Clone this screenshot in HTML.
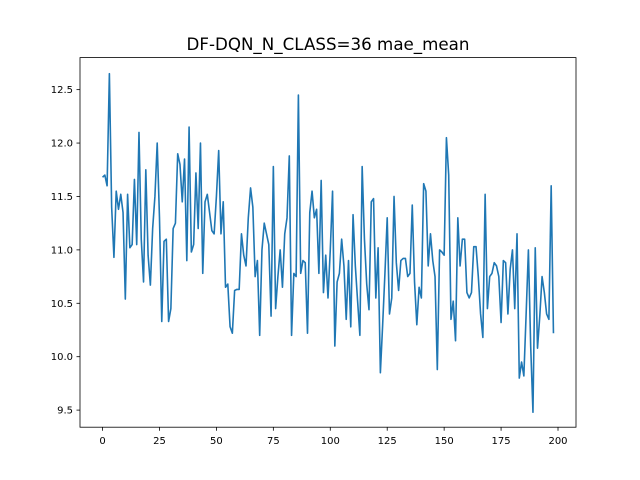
<!DOCTYPE html>
<html><head><meta charset="utf-8"><style>
body{margin:0;background:#fff;}
svg{display:block;font-family:"DejaVu Sans","Liberation Sans",sans-serif;}
</style></head><body>
<svg id="chart" width="640" height="480">
<rect width="640" height="480" fill="#fff"/>
<text x="328" y="50" text-anchor="middle" font-size="16.7">DF-DQN_N_CLASS=36 mae_mean</text>
<g id="xt"></g>
<g id="yt"></g>
<path id="line" fill="none" stroke="#1f77b4" stroke-width="1.6" stroke-linejoin="round"/>
<rect x="80" y="57.6" width="496" height="369.6" fill="none" stroke="#000" stroke-width="0.8"/>
</svg>
<script>
const xTicks=[0,25,50,75,100,125,150,175,200];
const yTicks=[9.5,10.0,10.5,11.0,11.5,12.0,12.5];
const yTickLabels=["9.5","10.0","10.5","11.0","11.5","12.0","12.5"];
const values=[11.68,11.70,11.6,12.65,11.4,10.93,11.55,11.38,11.52,11.35,10.54,11.52,11.02,11.05,11.66,11.05,12.1,11.1,10.7,11.75,
10.95,10.67,11.2,11.5,12.0,11.3,10.33,11.08,11.1,10.33,10.45,11.2,11.25,11.9,11.8,11.45,11.85,10.9,12.15,10.98,
11.05,11.72,11.2,12.0,10.78,11.45,11.52,11.35,11.18,11.15,11.5,11.93,11.15,11.45,10.65,10.68,10.28,10.22,10.62,10.63,
10.63,11.15,10.95,10.85,11.3,11.58,11.4,10.75,10.9,10.2,11.0,11.25,11.15,11.05,10.38,11.78,10.45,10.75,11.0,10.65,
11.15,11.3,11.88,10.2,10.78,10.75,12.45,10.78,10.9,10.88,10.22,11.35,11.55,11.3,11.38,10.78,11.65,10.6,10.95,10.55,
11.0,11.55,10.1,10.7,10.78,11.1,10.85,10.35,10.9,10.28,11.33,10.85,10.52,10.2,11.78,11.1,10.68,10.44,11.45,11.48,
10.55,11.02,9.85,10.3,10.78,11.3,10.4,10.55,11.5,10.88,10.62,10.9,10.92,10.92,10.75,10.78,11.42,10.7,10.3,10.65,
10.55,11.62,11.55,10.85,11.15,10.9,10.75,9.88,11.0,10.98,10.95,12.05,11.7,10.35,10.52,10.15,11.3,10.85,11.1,11.1,
10.6,10.55,10.6,11.03,11.03,10.75,10.4,10.18,11.52,10.45,10.75,10.78,10.88,10.85,10.75,10.32,10.9,10.88,10.4,10.82,
11.0,10.45,11.15,9.8,9.95,9.82,10.4,11.0,10.1,9.48,11.02,10.08,10.38,10.75,10.6,10.4,10.35,11.6,10.22];
const NS="http://www.w3.org/2000/svg";
const L=80,R=576,T=57.6,B=427.2;
const xMin=-9.9,xMax=207.9,yMin=9.34,yMax=12.8;
const xs=v=>L+(v-xMin)/(xMax-xMin)*(R-L);
const ys=v=>B-(v-yMin)/(yMax-yMin)*(B-T);
function mk(tag,attrs,parent){const e=document.createElementNS(NS,tag);for(const k in attrs)e.setAttribute(k,attrs[k]);parent.appendChild(e);return e;}
const xt=document.getElementById('xt'),yt=document.getElementById('yt');
xTicks.forEach(t=>{
  const l=mk('line',{x1:xs(t),x2:xs(t),y1:B,y2:B+3.5,stroke:'#000','stroke-width':0.8},xt);
  
  
  const tx=mk('text',{x:xs(t),y:B+17,'text-anchor':'middle','font-size':10},xt);
  tx.textContent=t;
  
  
});
yTicks.forEach((t,i)=>{
  const l=mk('line',{x1:L-3.5,x2:L,y1:ys(t),y2:ys(t),stroke:'#000','stroke-width':0.8},yt);
  
  
  const tx=mk('text',{x:L-7,y:ys(t)+3.5,'text-anchor':'end','font-size':10},yt);
  tx.textContent=yTickLabels[i];
  
  
});
document.getElementById('line').setAttribute('d',values.map((v,i)=>(i?'L':'M')+xs(i).toFixed(2)+','+ys(v).toFixed(2)).join(''));
</script>
</body></html>
